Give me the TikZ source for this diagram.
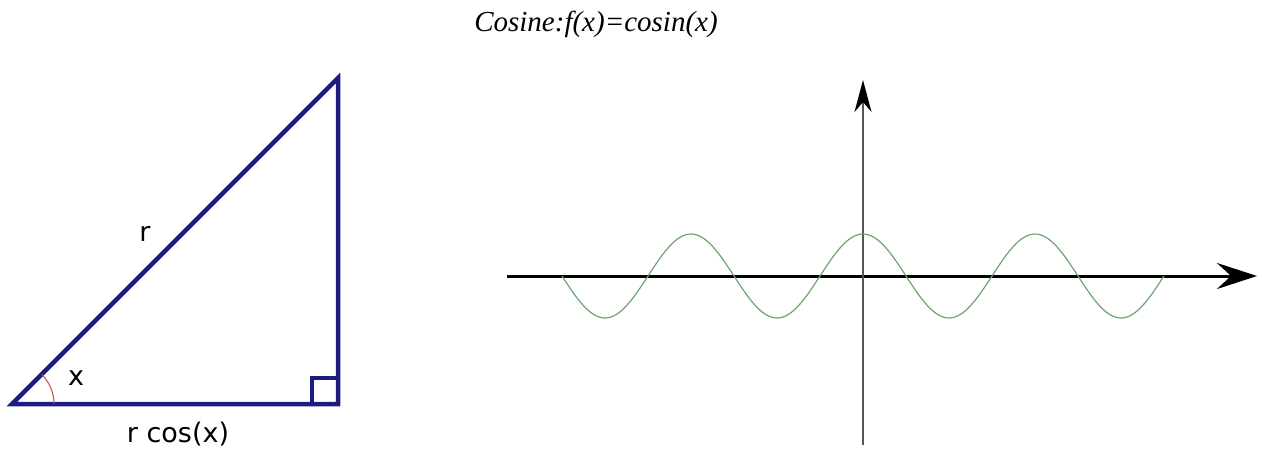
\documentclass[tikz,border=0pt]{standalone}
\usepackage{fontspec}
\setmainfont{Liberation Serif}
\newfontfamily\labelfont{DejaVu Sans}
\usepackage{tikz,xcolor}
\usetikzlibrary{arrows.meta}
\definecolor{navy}{RGB}{28,28,125}
\definecolor{anglered}{RGB}{205,70,70}
\definecolor{wavegreen}{RGB}{110,165,110}
\definecolor{axisgrey}{RGB}{85,85,85}
\tikzset{
  % style for the sides of the triangle
  side/.style={navy, line width=4.5pt, line join=miter},
  % style for the labels next to the triangle
  trilabel/.style={font=\labelfont\fontsize{27}{30}\selectfont, inner sep=0pt},
  % style for the two axes
  axis/.style={line width=#1},
}

\begin{document}
\begin{tikzpicture}[x=1pt, y=-1pt]
  \useasboundingbox (0,0) rectangle (1262,451);
  % Title
  \node[font=\itshape\fontsize{29}{31}\selectfont, inner sep=0pt] (title) at (596,24) {Cosine:f(x)=cosin(x)};
  % Corners of the triangle
  \coordinate (A) at (12,404);
  \coordinate (B) at (338,404);
  \coordinate (C) at (338,78);
  \draw[side] (A) -- (B) -- (C) -- cycle;
  % Right angle mark
  \draw[navy, line width=3.5pt] (312,404) -- (312,378) -- (338,378);
  % Angle at A
  \draw[anglered, line width=1pt] ([xshift=42pt]A) arc (0:-45:42);
  \node[trilabel] (xlab) at (76,378) {x};
  \node[trilabel] (rlab) at (145,234) {r};
  \node[trilabel] (rcos) at (178,434) {r cos(x)};
  % Axes
  \coordinate (xstart) at (507,276);
  \coordinate (xend) at (1257,276);
  \coordinate (ystart) at (863,445);
  \coordinate (yend) at (863,80);
  \draw[axis=3pt, -{Stealth[length=40pt, width=26pt, inset=14pt]}] (xstart) -- (xend);
  \draw[axis=2pt, axisgrey, -{Stealth[length=32pt, width=17pt, inset=10pt, color=black]}] (ystart) -- (yend);
  % The cosine wave
  \draw[wavegreen, line width=1.2pt] plot[domain=-630:630, samples=220, smooth] ({863+\x/360*172}, {276-42*cos(\x)});
\end{tikzpicture}
\end{document}
